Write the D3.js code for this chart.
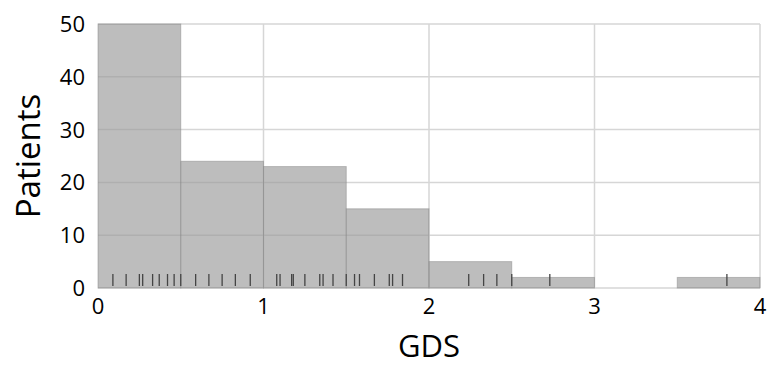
<!DOCTYPE html>
<html>
<head>
<meta charset="utf-8">
<script src="https://cdn.jsdelivr.net/npm/d3@7"></script>
<style>
  body { margin: 0; background: #fff; }
  text { font-family: "Open Sans", sans-serif; fill: #000; }
</style>
</head>
<body>
<div id="chart"></div>
<script>
// Histogram bins (GDS) and patient counts
const binStarts = [0, 0.5, 1, 1.5, 2, 2.5, 3, 3.5];
const binWidth = 0.5;
const counts = [50, 24, 23, 15, 5, 2, 0, 2];

// Rug of observed GDS values
const rugValues = [0.09, 0.17, 0.25, 0.27, 0.33, 0.37, 0.42, 0.46, 0.5,
    0.59, 0.67, 0.75, 0.83, 0.92, 1.08, 1.1, 1.17, 1.18, 1.25, 1.34, 1.36,
    1.42, 1.5, 1.55, 1.58, 1.67, 1.76, 1.78, 1.84, 2.24, 2.33, 2.41, 2.5,
    2.73, 3.8];

const xTicks = [0, 1, 2, 3, 4];
const yTicks = [0, 10, 20, 30, 40, 50];

const width = 767, height = 367;
const margin = { top: 24, right: 7, bottom: 79, left: 98 };

const x = d3.scaleLinear().domain([0, 4]).range([margin.left, width - margin.right]);
const y = d3.scaleLinear().domain([0, 50]).range([height - margin.bottom, margin.top]);

const svg = d3.select("#chart").append("svg")
    .attr("width", width)
    .attr("height", height);

// Grid
svg.append("g")
    .selectAll("line.h")
    .data(yTicks)
    .join("line")
    .attr("x1", x(0)).attr("x2", x(4))
    .attr("y1", d => y(d)).attr("y2", d => y(d))
    .attr("stroke", "#d6d6d6")
    .attr("stroke-width", 1.5);

svg.append("g")
    .selectAll("line.v")
    .data(xTicks.filter(d => d > 0))
    .join("line")
    .attr("x1", d => x(d)).attr("x2", d => x(d))
    .attr("y1", y(0)).attr("y2", y(50))
    .attr("stroke", "#d6d6d6")
    .attr("stroke-width", 1.5);

// Bars
svg.append("g")
    .selectAll("rect")
    .data(binStarts.map((b, i) => ({ b, c: counts[i] })).filter(d => d.c > 0))
    .join("rect")
    .attr("x", d => x(d.b))
    .attr("width", d => x(d.b + binWidth) - x(d.b))
    .attr("y", d => y(d.c))
    .attr("height", d => y(0) - y(d.c))
    .attr("fill", "#9a9a9a")
    .attr("fill-opacity", 0.65)
    .attr("stroke", "#8a8a8a")
    .attr("stroke-opacity", 0.5)
    .attr("stroke-width", 1);

// Rug ticks
svg.append("g")
    .selectAll("line")
    .data(rugValues)
    .join("line")
    .attr("x1", d => x(d)).attr("x2", d => x(d))
    .attr("y1", y(0) - 14).attr("y2", y(0) - 2)
    .attr("stroke", "#444")
    .attr("stroke-width", 1.3);

// Tick labels
svg.append("g")
    .selectAll("text")
    .data(yTicks)
    .join("text")
    .attr("x", 85)
    .attr("y", d => y(d))
    .attr("dy", "0.36em")
    .attr("text-anchor", "end")
    .style("font-size", "22px")
    .text(d => d);

svg.append("g")
    .selectAll("text")
    .data(xTicks)
    .join("text")
    .attr("x", d => x(d))
    .attr("y", 314)
    .attr("text-anchor", "middle")
    .style("font-size", "22px")
    .text(d => d);

// Axis titles
svg.append("text")
    .attr("transform", `translate(40, ${(y(0) + y(50)) / 2}) rotate(-90)`)
    .attr("text-anchor", "middle")
    .style("font-size", "33px")
    .text("Patients");

svg.append("text")
    .attr("x", (x(0) + x(4)) / 2)
    .attr("y", 357)
    .attr("text-anchor", "middle")
    .style("font-size", "31px")
    .text("GDS");
</script>
</body>
</html>
